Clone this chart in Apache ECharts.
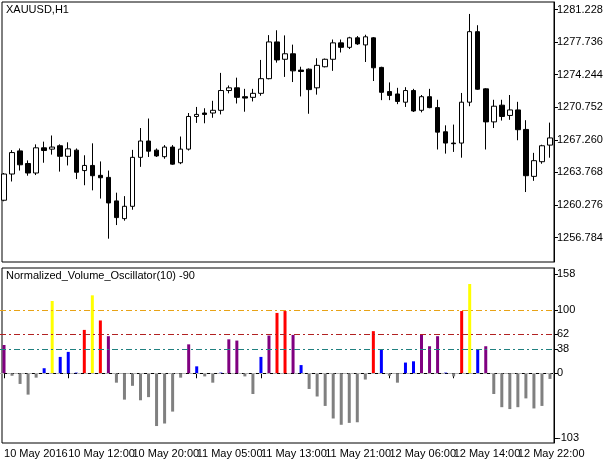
<!DOCTYPE html>
<html><head><meta charset="utf-8">
<script src="https://cdn.jsdelivr.net/npm/echarts@6/dist/echarts.min.js"></script>
<style>html,body{margin:0;padding:0;background:#fff}#c{width:611px;height:463px}</style>
</head><body><div id="c"></div>
<script>
const opens  = [1260.79,1263.60,1266.08,1264.73,1263.71,1266.41,1266.27,1266.63,1265.50,1266.16,1263.97,1264.52,1263.46,1263.24,1260.72,1258.82,1260.14,1265.39,1267.14,1266.16,1265.46,1266.49,1264.81,1266.27,1269.77,1270.14,1270.14,1270.43,1272.55,1272.84,1271.89,1271.82,1272.25,1273.82,1277.76,1275.90,1276.49,1274.74,1274.84,1272.84,1275.10,1275.90,1277.66,1277.18,1278.20,1277.44,1278.20,1275.03,1272.44,1272.18,1271.30,1272.55,1270.43,1271.89,1270.72,1268.13,1266.92,1266.92,1271.30,1278.86,1272.73,1269.19,1270.98,1269.88,1270.47,1268.38,1263.35,1264.92,1266.70];
const closes = [1263.60,1265.90,1264.59,1263.71,1266.41,1266.12,1266.49,1265.50,1266.30,1263.79,1264.52,1263.42,1263.20,1260.50,1258.93,1260.14,1265.39,1267.14,1266.05,1265.54,1266.49,1264.66,1266.27,1269.77,1269.99,1269.99,1270.43,1272.55,1272.84,1271.82,1271.74,1272.25,1273.82,1277.76,1275.83,1276.49,1274.66,1274.59,1272.65,1275.25,1275.90,1277.66,1277.18,1278.20,1277.55,1278.31,1274.99,1272.36,1272.03,1271.38,1272.55,1270.36,1271.89,1270.72,1268.09,1266.92,1266.85,1271.30,1278.86,1272.69,1269.19,1270.87,1269.77,1270.47,1268.35,1263.42,1265.03,1266.63,1267.47];
const lows   = [1260.68,1262.80,1263.97,1263.42,1263.49,1264.81,1265.68,1263.86,1264.52,1263.06,1262.40,1261.85,1260.97,1256.67,1258.13,1258.60,1259.77,1264.37,1265.43,1265.43,1265.24,1264.59,1264.66,1266.12,1269.08,1269.04,1269.63,1269.99,1272.25,1271.16,1270.28,1271.38,1271.99,1273.75,1275.54,1274.01,1273.46,1271.92,1270.06,1272.11,1275.03,1274.66,1276.63,1277.00,1277.44,1275.61,1273.57,1271.52,1271.52,1271.09,1270.79,1270.25,1270.21,1270.65,1266.23,1265.79,1265.97,1265.35,1270.87,1272.62,1266.23,1268.53,1269.33,1269.41,1267.22,1261.67,1262.87,1264.70,1265.35];
const highs  = [1263.71,1266.16,1266.34,1265.06,1266.78,1267.07,1267.73,1266.78,1267.00,1266.34,1265.61,1266.89,1264.95,1263.97,1261.60,1261.23,1266.19,1268.53,1269.55,1266.34,1266.70,1266.70,1267.62,1270.14,1270.79,1270.65,1271.45,1274.44,1273.09,1273.93,1272.73,1272.73,1275.83,1278.49,1279.01,1278.46,1277.47,1275.10,1274.92,1276.01,1275.98,1278.02,1278.02,1278.31,1278.39,1278.53,1278.28,1275.10,1273.42,1272.84,1272.91,1272.73,1272.07,1272.73,1271.56,1268.82,1268.90,1272.29,1280.76,1279.55,1272.80,1271.56,1271.56,1272.07,1271.34,1269.37,1265.87,1266.74,1269.11];
const nvo = [45,-4,-17,-34,-7,8,115,26,34,1,69,124,84,59,-15,-42,-20,-43,-38,-84,-80,-61,-7,46,11,-5,-15,1,54,52,-5,-33,26,60,96,99,61,13,-25,-37,-52,-72,-82,-79,-78,-10,67,37,-4,-15,17,19,61,43,59,1,-5,99,142,37,43,-33,-54,-57,-54,-40,-56,-52,-9];
const priceTicks = [1281.228,1277.736,1274.244,1270.752,1267.260,1263.768,1260.276,1256.784];
const oscTicks = [158,100,62,38,0,-103];
const levels = [100,62,38];
const timeLabels = ['10 May 2016','10 May 12:00','10 May 20:00','11 May 05:00','11 May 13:00','11 May 21:00','12 May 06:00','12 May 14:00','12 May 22:00'];

const cats = opens.map((_, i) => i);
const candle = opens.map((o, i) => [o, closes[i], lows[i], highs[i]]);
function colorOf(v){ if(v<0) return '#808080'; if(v>=100) return '#FFFF00'; if(v>=62) return '#FF0000'; if(v>=38) return '#800080'; return '#0000FF'; }
const F = 'Liberation Sans';
const chart = echarts.init(document.getElementById('c'));
const xBase = {type:'category', data:cats, boundaryGap:true, axisLine:{show:false}, axisTick:{show:false}, axisLabel:{show:false}, splitLine:{show:false}};
chart.setOption({
  animation:false,
  grid:[{left:-1,width:555,top:2,height:260},{left:-1,width:555,top:268,height:175}],
  xAxis:[Object.assign({gridIndex:0},xBase),
    Object.assign({}, xBase, {gridIndex:1,
      axisLine:{show:true, lineStyle:{color:'#000'}},
      axisTick:{show:true, alignWithLabel:true, interval:(i)=>i%8===0, length:5, lineStyle:{color:'#000'}},
      axisLabel:{show:true, interval:0, hideOverlap:false, showMinLabel:true, showMaxLabel:true,
        formatter:(v,i)=> (i%8===0 ? (timeLabels[i/8]||'') : ''), align:'left', margin:5, color:'#000', fontFamily:F, fontSize:11}
    })],
  yAxis:[
    {gridIndex:0, type:'value', position:'right', min:1254.17, max:1282.04, axisLine:{show:true,lineStyle:{color:'#000'}},
     axisTick:{show:true,length:4,lineStyle:{color:'#000'},customValues:priceTicks},
     axisLabel:{customValues:priceTicks, formatter:(v)=>v.toFixed(3), color:'#000', fontFamily:F, fontSize:11, margin:3},
     splitLine:{show:false}},
    {gridIndex:1, type:'value', position:'right', min:-111, max:167.5, axisLine:{show:true,lineStyle:{color:'#000'}},
     axisTick:{show:true,length:4,lineStyle:{color:'#000'},customValues:oscTicks},
     axisLabel:{customValues:oscTicks, color:'#000', fontFamily:F, fontSize:11, margin:3},
     splitLine:{show:false}}
  ],
  series:[
    {type:'candlestick', xAxisIndex:0, yAxisIndex:0, data:candle, barWidth:5,
     itemStyle:{color:'#fff', color0:'#000', borderColor:'#000', borderColor0:'#000', borderWidth:1}},
    {type:'bar', xAxisIndex:1, yAxisIndex:1, barWidth:3,
     data:nvo.map(v=>({value:v, itemStyle:{color:colorOf(v)}})),
     markLine:{silent:true, symbol:'none', label:{show:false},
       data:[
         {yAxis:levels[0], lineStyle:{color:'#E8A317', type:[6,3,2,3], width:1}},
         {yAxis:levels[1], lineStyle:{color:'#B22222', type:[6,3,2,3], width:1}},
         {yAxis:levels[2], lineStyle:{color:'#208080', type:[6,3,2,3], width:1}},
         {yAxis:0, lineStyle:{color:'#B0B0B0', type:[4,3], width:1}}
       ]}}
  ],
  graphic:[
    {type:'rect', shape:{x:2,y:2,width:552,height:260}, style:{fill:'none',stroke:'#000',lineWidth:1}, silent:true},
    {type:'rect', shape:{x:2,y:268,width:552,height:175}, style:{fill:'none',stroke:'#000',lineWidth:1}, silent:true},
    {type:'text', left:6, top:4, style:{text:'XAUUSD,H1', font:'11px Liberation Sans', fill:'#000'}},
    {type:'text', left:6, top:270, style:{text:'Normalized_Volume_Oscillator(10) -90', font:'11px Liberation Sans', fill:'#000'}}
  ]
});
</script></body></html>
